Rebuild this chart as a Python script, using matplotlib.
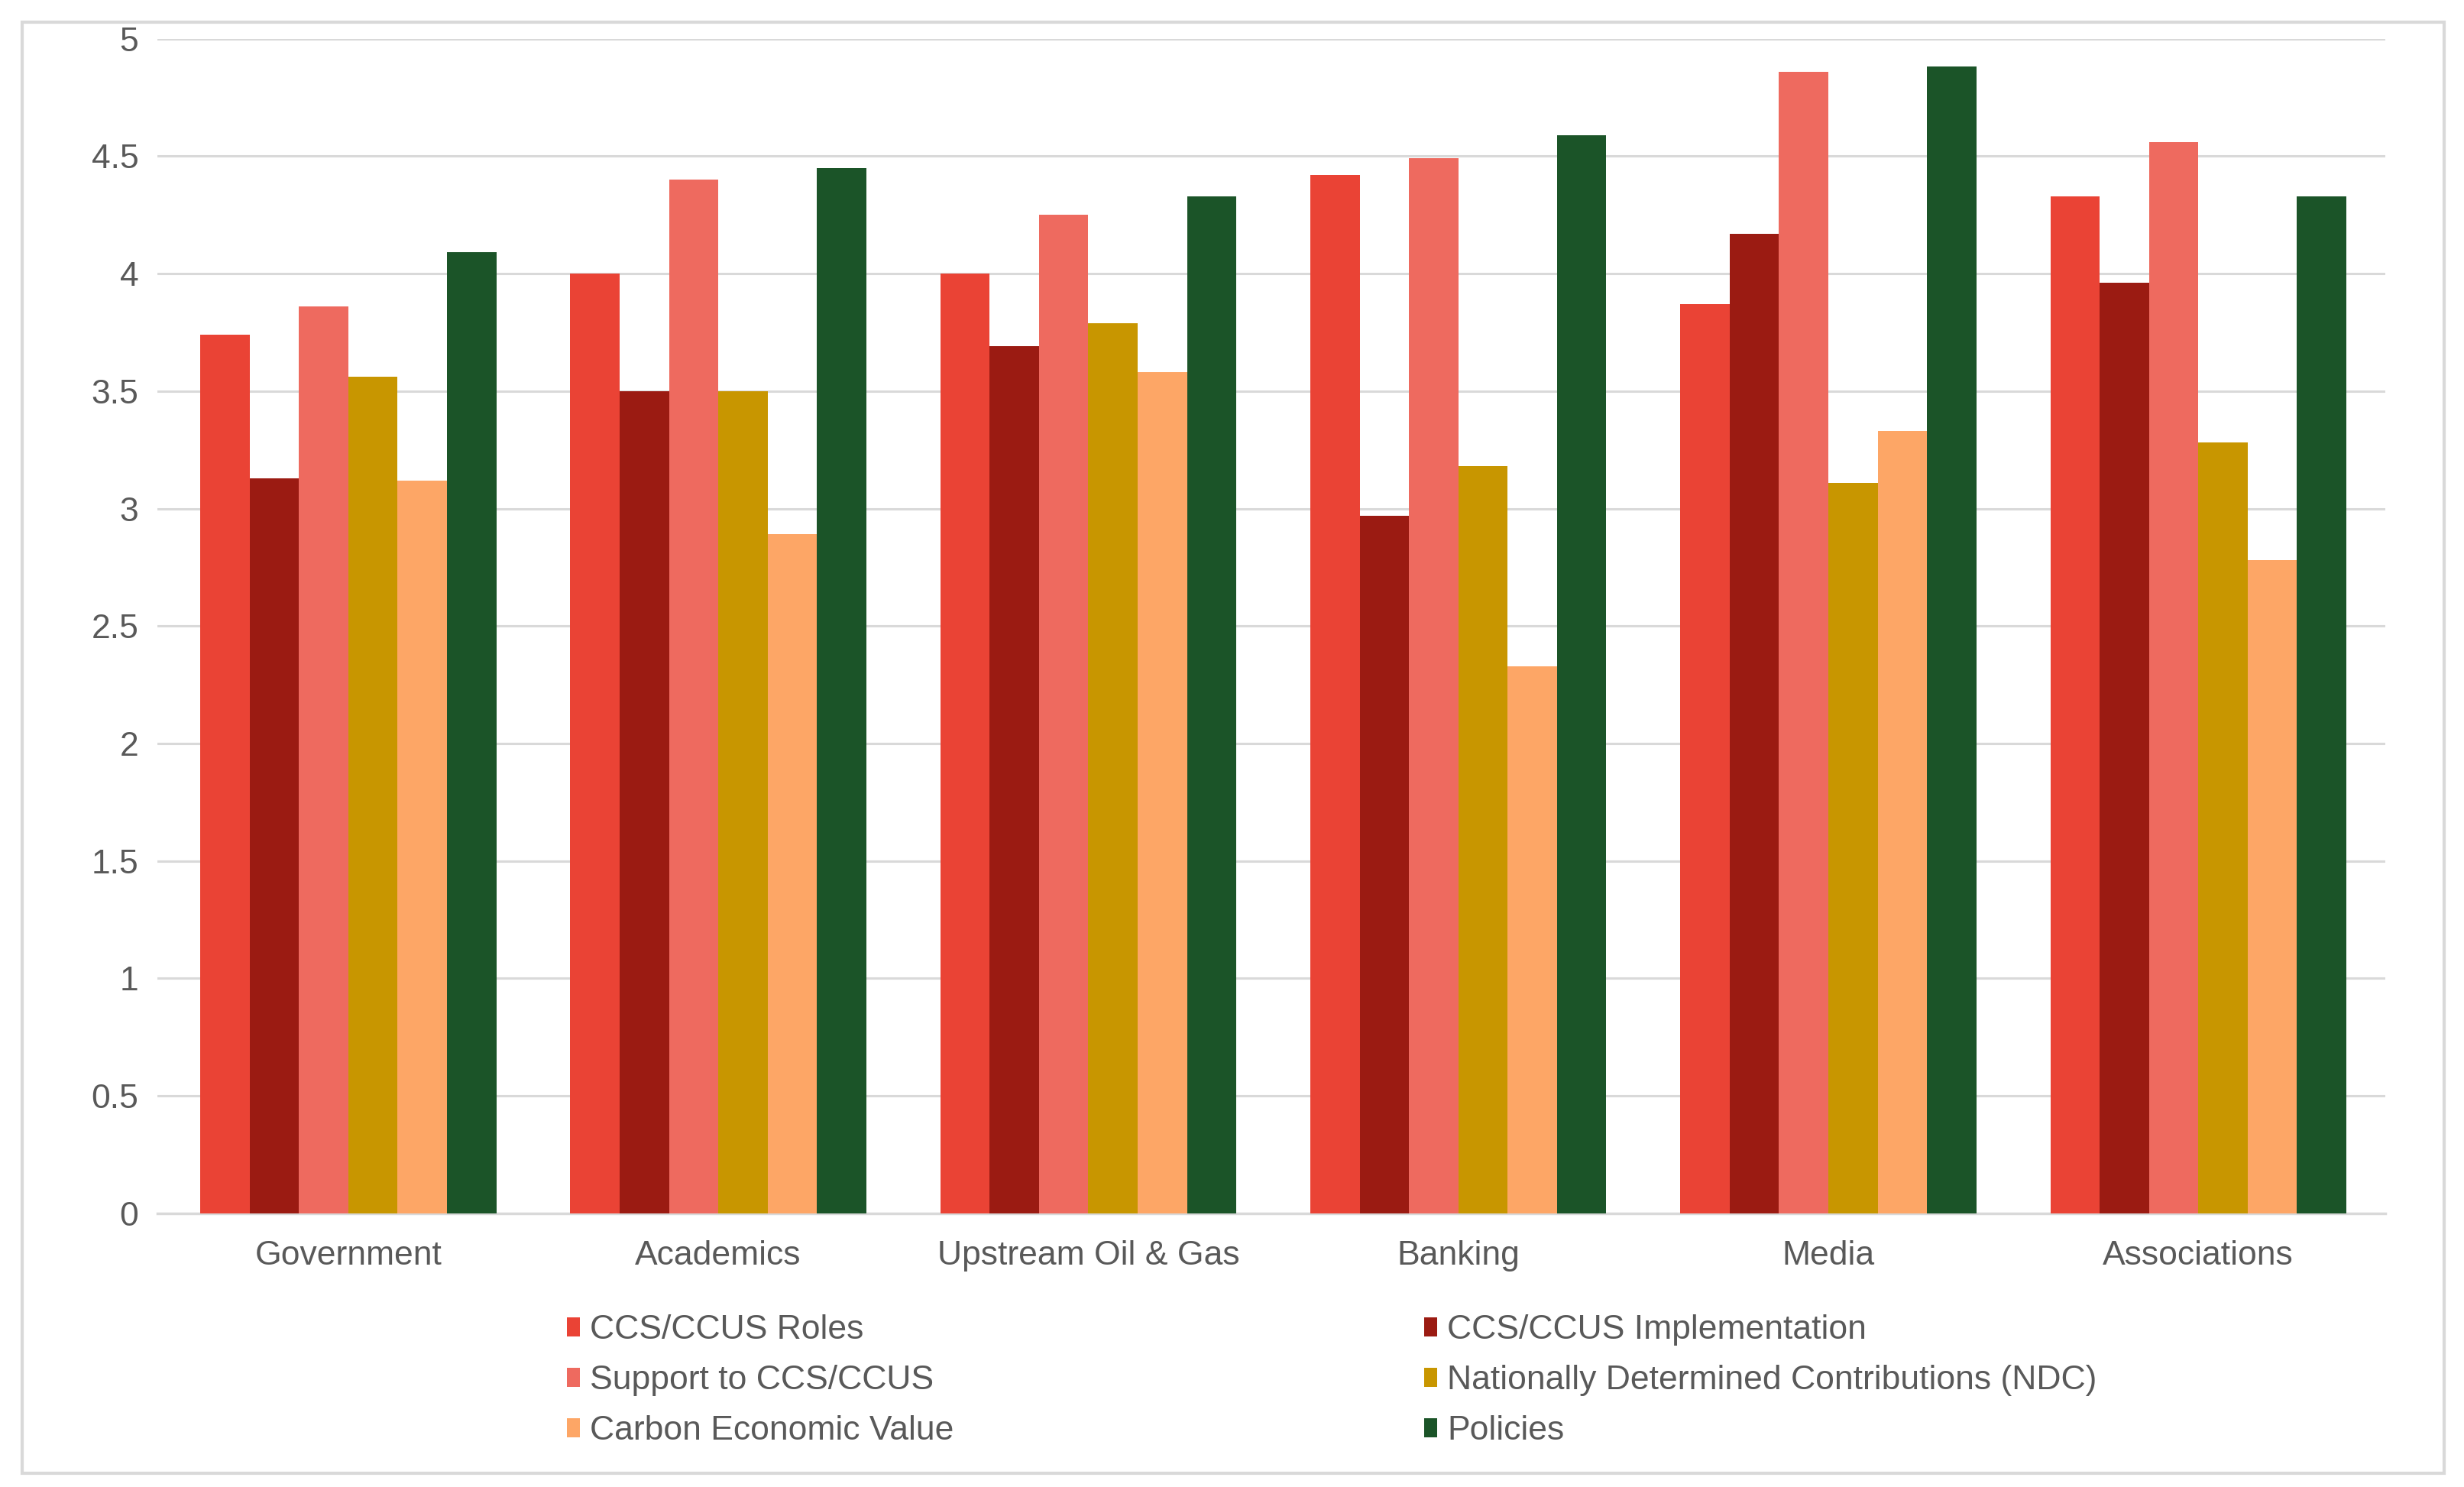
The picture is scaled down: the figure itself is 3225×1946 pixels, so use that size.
import numpy as np
import matplotlib
matplotlib.use('Agg')
import matplotlib.pyplot as plt
from matplotlib.patches import Rectangle

# Chart data
categories = ['Government', 'Academics', 'Upstream Oil & Gas', 'Banking', 'Media', 'Associations']
series_names = ['CCS/CCUS Roles', 'CCS/CCUS Implementation', 'Support to CCS/CCUS',
                'Nationally Determined Contributions (NDC)', 'Carbon Economic Value', 'Policies']
roles = [3.74, 4.00, 4.00, 4.42, 3.87, 4.33]
implementation = [3.13, 3.50, 3.69, 2.97, 4.17, 3.96]
support = [3.86, 4.40, 4.25, 4.49, 4.86, 4.56]
ndc = [3.56, 3.50, 3.79, 3.18, 3.11, 3.28]
carbon_value = [3.12, 2.89, 3.58, 2.33, 3.33, 2.78]
policies = [4.09, 4.45, 4.33, 4.59, 4.88, 4.33]
y_ticks = [0, 0.5, 1, 1.5, 2, 2.5, 3, 3.5, 4, 4.5, 5]

colors = ['#EA4335', '#9B1B12', '#EE6A5F', '#C89600', '#FDA666', '#1B5428']
series = [roles, implementation, support, ndc, carbon_value, policies]

plt.rcParams['font.family'] = ['Liberation Sans', 'DejaVu Sans']
text_color = '#595959'
grid_color = '#D9D9D9'

fig = plt.figure(figsize=(32.25, 19.46), dpi=100)
ax = fig.add_axes([0.064, 0.184, 0.904, 0.790])

x = np.arange(len(categories))
width = 0.8 / len(series)
handles = []
for i, (vals, col, name) in enumerate(zip(series, colors, series_names)):
    offset = (i - (len(series) - 1) / 2) * width
    b = ax.bar(x + offset, vals, width, color=col, label=name, zorder=3)
    handles.append(b)

ax.set_xlim(-0.515, 5.505)
ax.set_ylim(0, 5)
ax.set_yticks(y_ticks)
ax.set_yticklabels([f'{t:g}' for t in y_ticks])
ax.set_xticks(x)
ax.set_xticklabels(categories)
ax.tick_params(axis='both', length=0, labelsize=32, labelcolor=text_color)
ax.tick_params(axis='y', pad=18)
ax.tick_params(axis='x', pad=25)
ax.grid(axis='y', color=grid_color, linewidth=2.2, zorder=0)
for s in ['top', 'right', 'left']:
    ax.spines[s].set_visible(False)
ax.spines['bottom'].set_color(grid_color)
ax.spines['bottom'].set_linewidth(2.5)

# legend laid out row by row: reorder for column-first filling
order = [0, 2, 4, 1, 3, 5]
leg = fig.legend([handles[i] for i in order], [series_names[i] for i in order],
                 ncol=2, loc='upper left', bbox_to_anchor=(0.230, 0.116),
                 frameon=False, fontsize=32, handlelength=0.38, handleheight=0.5,
                 handletextpad=0.3, columnspacing=13.85, labelspacing=0.56,
                 borderpad=0, borderaxespad=0)
for t in leg.get_texts():
    t.set_color(text_color)

# outer chart border
fig.patches.append(Rectangle((0.009, 0.0095), 0.983, 0.9755, transform=fig.transFigure,
                             fill=False, edgecolor=grid_color, linewidth=3))

fig.savefig('out.png', dpi=100, facecolor='white')
